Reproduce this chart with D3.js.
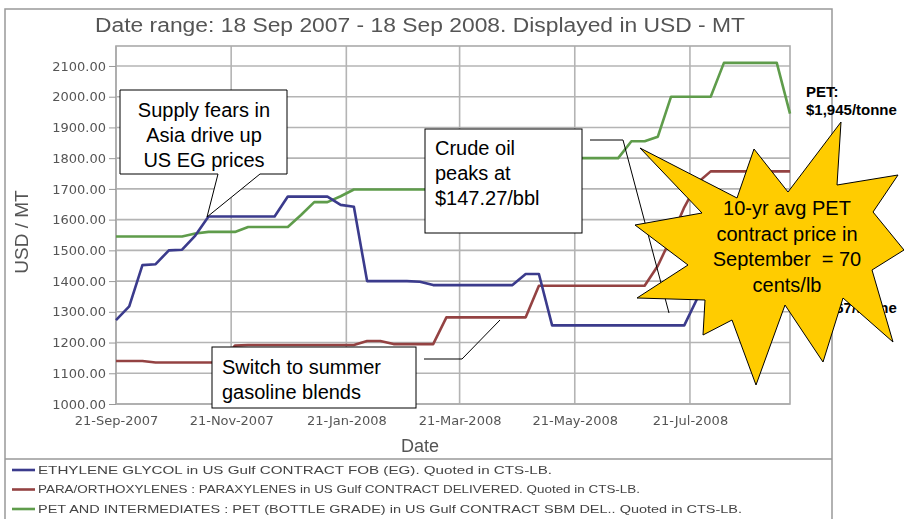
<!DOCTYPE html>
<html>
<head>
<meta charset="utf-8">
<script src="https://cdn.jsdelivr.net/npm/d3@7"></script>
<style>
  body { margin: 0; background: #fff; }
  svg { display: block; }
  .note { font-family: "Liberation Sans", Arial, sans-serif; font-size: 20px; fill: #000; }
</style>
</head>
<body>
<svg id="chart" width="904" height="519"></svg>
<script>
// --- Data (weekly contract prices, USD/MT) ---
const startDate = new Date(2007, 8, 21);
const endDate = new Date(2008, 8, 13);
const weekDates = d3.timeDay.range(startDate, endDate, 7);

const egValues = [1273,1318,1452,1455,1500,1502,1548,1610,1610,1610,1610,1610,1610,
  1675,1675,1675,1675,1648,1642,1400,1400,1400,1400,1398,1387,1387,1387,1387,1387,
  1387,1387,1423,1423,1256,1256,1256,1256,1256,1256,1256,1256,1256,1256,1256,
  1345,1345,1345,1345,1345,1367,1367,1367];
const pxValues = [1140,1140,1140,1135,1135,1135,1135,1135,1135,1190,1192,1192,1192,
  1192,1192,1192,1192,1192,1192,1205,1205,1195,1195,1195,1195,1282,1282,1282,1282,
  1282,1282,1282,1385,1385,1385,1385,1385,1385,1385,1385,1385,1450,1540,1640,1720,
  1757,1757,1757,1757,1757,1757,1757];
const petValues = [1545,1545,1545,1545,1545,1545,1555,1560,1560,1560,1576,1576,1576,
  1576,1615,1657,1657,1676,1698,1698,1698,1698,1698,1698,1698,1698,1698,1698,1698,
  1698,1800,1800,1800,1800,1800,1800,1800,1800,1800,1855,1855,1870,2000,2000,2000,
  2000,2110,2110,2110,2110,2110,1945];

const yTicks = [1000,1100,1200,1300,1400,1500,1600,1700,1800,1900,2000,2100];
const xTickDates = [new Date(2007,8,21), new Date(2007,10,21), new Date(2008,0,21),
  new Date(2008,2,21), new Date(2008,4,21), new Date(2008,6,21)];

const seriesNames = [
  "ETHYLENE GLYCOL in US Gulf CONTRACT FOB (EG). Quoted in CTS-LB.",
  "PARA/ORTHOXYLENES : PARAXYLENES in US Gulf CONTRACT DELIVERED. Quoted in CTS-LB.",
  "PET AND INTERMEDIATES : PET (BOTTLE GRADE) in US Gulf CONTRACT SBM DEL.. Quoted in CTS-LB."
];
const seriesColors = ["#3a3a8c", "#944343", "#5e9c4b"];
const seriesValues = [egValues, pxValues, petValues];

// --- Layout ---
const plot = { left: 116, right: 790, top: 46, bottom: 404 };
const svg = d3.select("#chart");

const defs = svg.append("defs");
defs.append("filter").attr("id", "soft")
  .append("feGaussianBlur").attr("stdDeviation", 0.55);

const x = d3.scaleTime().domain([startDate, weekDates[weekDates.length - 1]])
  .range([plot.left, plot.right]);
const y = d3.scaleLinear().domain([1000, 2165]).range([plot.bottom, plot.top]);

const chart = svg.append("g").attr("filter", "url(#soft)");

// outer panel
chart.append("rect").attr("x", 5).attr("y", 9).attr("width", 827).attr("height", 520)
  .attr("fill", "none").attr("stroke", "#999").attr("stroke-width", 1.5);
chart.append("line").attr("x1", 5).attr("x2", 832).attr("y1", 459).attr("y2", 459)
  .attr("stroke", "#999").attr("stroke-width", 1.5);

chart.append("text")
  .attr("x", 420).attr("y", 32)
  .attr("text-anchor", "middle")
  .attr("textLength", 650).attr("lengthAdjust", "spacingAndGlyphs")
  .style("font-family", "Liberation Sans, Arial, sans-serif")
  .style("font-size", "20px").style("fill", "#555")
  .text("Date range: 18 Sep 2007 - 18 Sep 2008. Displayed in USD - MT");

// grid
chart.append("g").selectAll("line").data(yTicks).enter().append("line")
  .attr("x1", plot.left).attr("x2", plot.right)
  .attr("y1", d => y(d)).attr("y2", d => y(d))
  .attr("stroke", "#b4b4b4").attr("stroke-width", 1.6);
chart.append("g").selectAll("line").data(xTickDates).enter().append("line")
  .attr("x1", d => x(d)).attr("x2", d => x(d))
  .attr("y1", plot.top).attr("y2", plot.bottom)
  .attr("stroke", "#b4b4b4").attr("stroke-width", 1.6);
chart.append("rect").attr("x", plot.left).attr("y", plot.top)
  .attr("width", plot.right - plot.left).attr("height", plot.bottom - plot.top)
  .attr("fill", "none").attr("stroke", "#aaa").attr("stroke-width", 1.6);

// axes
const yAxis = chart.append("g").attr("transform", `translate(${plot.left},0)`)
  .call(d3.axisLeft(y).tickValues(yTicks).tickFormat(d3.format(".2f")).tickSize(7).tickPadding(3));
const xAxis = chart.append("g").attr("transform", `translate(0,${plot.bottom})`)
  .call(d3.axisBottom(x).tickValues(xTickDates).tickFormat(d3.timeFormat("%d-%b-%Y")).tickSize(0).tickPadding(12));
[yAxis, xAxis].forEach(a => {
  a.select(".domain").remove();
  a.selectAll("line").attr("stroke", "#999");
  a.selectAll("text").style("font-family", "DejaVu Sans, Verdana, sans-serif")
    .style("font-size", "13px").style("fill", "#555");
});

chart.append("text").attr("x", 420).attr("y", 452).attr("text-anchor", "middle")
  .style("font-family", "Liberation Sans, Arial, sans-serif")
  .style("font-size", "18px").style("fill", "#555").text("Date");
chart.append("text").attr("transform", "translate(28,232) rotate(-90)").attr("text-anchor", "middle")
  .style("font-family", "Liberation Sans, Arial, sans-serif")
  .style("font-size", "19px").style("fill", "#555").text("USD / MT");

// lines
const line = d3.line().x((d, i) => x(weekDates[i])).y(d => y(d));
[2, 1, 0].forEach(k => {
  chart.append("path").datum(seriesValues[k])
    .attr("d", line).attr("fill", "none")
    .attr("stroke", seriesColors[k]).attr("stroke-width", 2.6)
    .attr("stroke-linejoin", "round");
});

// legend
const legendWidths = [514, 602, 704];
const legend = chart.append("g").selectAll("g").data(seriesNames).enter().append("g")
  .attr("transform", (d, i) => `translate(12,${470 + i * 19.5})`);
legend.append("line").attr("x1", 0).attr("x2", 23)
  .attr("stroke", (d, i) => seriesColors[i]).attr("stroke-width", 2.6);
legend.append("text").attr("x", 26).attr("dy", "0.35em")
  .attr("textLength", (d, i) => legendWidths[i]).attr("lengthAdjust", "spacingAndGlyphs")
  .style("font-family", "Liberation Sans, Arial, sans-serif")
  .style("font-size", "11px").style("fill", "#444")
  .text(d => d);

// --- Annotations ---
const notes = svg.append("g");

// right-hand price labels (EG label sits mostly behind the starburst)
const bold = { "font-family": "Liberation Sans, Arial, sans-serif", "font-size": "15px", "font-weight": "bold" };
[["PET:", 806, 97], ["$1,945/tonne", 806, 115], ["$1,367/tonne", 806, 313]]
  .forEach(([t, tx, ty]) => {
    const el = notes.append("text").attr("x", tx).attr("y", ty).text(t);
    Object.entries(bold).forEach(([k, v]) => el.style(k, v));
  });

// callout: supply fears
notes.append("path")
  .attr("d", "M120,90 H287 V174 H260 L207,217 L218,174 H120 Z")
  .attr("fill", "#fff").attr("stroke", "#000").attr("stroke-width", 1);
["Supply fears in", "Asia drive up", "US EG prices"].forEach((t, i) => {
  notes.append("text").attr("class", "note").attr("x", 204).attr("y", 117 + i * 25)
    .attr("text-anchor", "middle").text(t);
});

// callout: crude oil
notes.append("rect").attr("x", 425).attr("y", 129).attr("width", 157).attr("height", 104)
  .attr("fill", "#fff").attr("stroke", "#000").attr("stroke-width", 1);
["Crude oil", "peaks at", "$147.27/bbl"].forEach((t, i) => {
  notes.append("text").attr("class", "note").attr("x", 435).attr("y", 155 + i * 25).text(t);
});
notes.append("path").attr("d", "M590,140 H623 L669,313")
  .attr("fill", "none").attr("stroke", "#000").attr("stroke-width", 1);

// callout: summer gasoline
notes.append("rect").attr("x", 212).attr("y", 347).attr("width", 204).attr("height", 61)
  .attr("fill", "#fff").attr("stroke", "#000").attr("stroke-width", 1);
["Switch to summer", "gasoline blends"].forEach((t, i) => {
  notes.append("text").attr("class", "note").attr("x", 222).attr("y", 374 + i * 25).text(t);
});
notes.append("path").attr("d", "M424,359 H462 L500,320")
  .attr("fill", "none").attr("stroke", "#000").attr("stroke-width", 1);

// starburst
const starPoints = [[640,148],[737,198],[754,149],[788,192],[841,122],[837,185],[898,175],
  [873,212],[904,250],[872,270],[893,342],[843,298],[823,362],[785,305],[756,385],[732,320],
  [703,335],[705,300],[637,298],[688,265],[635,225],[702,213]];
notes.append("path").datum(starPoints)
  .attr("d", d3.line().curve(d3.curveLinearClosed))
  .attr("fill", "#ffcc00").attr("stroke", "#000").attr("stroke-width", 1);
["10-yr avg PET", "contract price in", "September  = 70", "cents/lb"].forEach((t, i) => {
  notes.append("text").attr("class", "note").attr("x", 787).attr("y", 215 + i * 25.5)
    .attr("text-anchor", "middle").style("white-space", "pre").text(t);
});
</script>
</body>
</html>
